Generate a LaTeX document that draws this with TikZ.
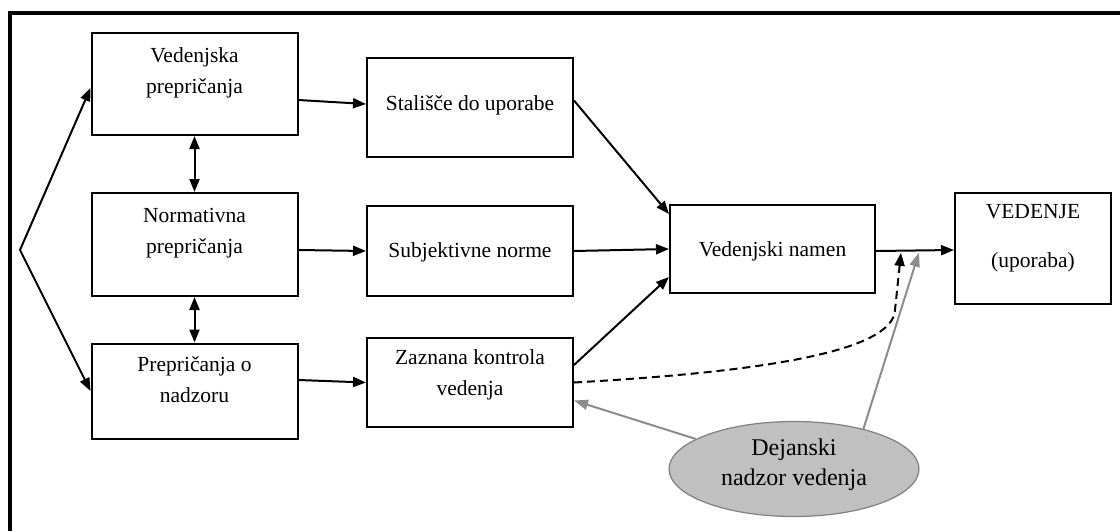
\documentclass[tikz,border=0pt]{standalone}
\usepackage{fontspec}
\setmainfont{Liberation Serif}
\usetikzlibrary{arrows.meta,shapes.geometric,calc}

\definecolor{ellfill}{HTML}{C0C0C0}
\definecolor{elledge}{HTML}{808080}
\definecolor{greyarrow}{HTML}{8C8C8C}

\tikzset{
  x=1pt, y=-1pt,
  box/.style={draw=black, line width=2pt, minimum width=206pt, inner sep=0pt},
  txt/.style={align=center, inner sep=0pt, font=\fontsize{21.5}{31}\selectfont},
  arr/.style={line width=2pt, -{Triangle[length=13pt,width=10pt]}},
  arrtwo/.style={line width=2pt, {Triangle[length=13pt,width=10pt]}-{Triangle[length=13pt,width=10pt]}},
  dasharr/.style={arr, dash pattern=on 8pt off 5pt},
  greyarr/.style={line width=2pt, draw=greyarrow, -{Triangle[length=14pt,width=10pt,fill=greyarrow]}},
  actual/.style={ellipse, draw=elledge, fill=ellfill, line width=1.2pt,
                 minimum width=250pt, minimum height=95pt, inner sep=0pt}
}

\begin{document}
\begin{tikzpicture}
\useasboundingbox (0,0) rectangle (1120,531);

% outer frame (open to the right and below)
\draw[line width=3.5pt] (1120,13) -- (10,13) -- (10,531);

% belief boxes
\node[box, minimum height=102pt] (vp) at (194.5,84) {};
\node[txt] (vpt) at (194.5,73) {Vedenjska\\prepričanja};
\node[box, minimum height=103pt] (np) at (194.5,244.5) {};
\node[txt] (npt) at (194.5,233) {Normativna\\prepričanja};
\node[box, minimum height=95pt] (po) at (194.5,391) {};
\node[txt] (pot) at (194.5,380) {Prepričanja o\\nadzoru};

% middle column
\node[box, minimum height=99pt] (st) at (470,107.5) {};
\node[txt] (stt) at (470,105) {Stališče do uporabe};
\node[box, minimum height=90pt] (sn) at (470,251) {};
\node[txt] (snt) at (470,252) {Subjektivne norme};
\node[box, minimum height=89pt] (zk) at (470,382.5) {};
\node[txt] (zkt) at (470,375) {Zaznana kontrola\\vedenja};

% intention and behaviour
\node[box, minimum width=205pt, minimum height=88pt] (vn) at (772.5,249) {};
\node[txt] (vnt) at (772.5,251) {Vedenjski namen};
\node[box, minimum width=156pt, minimum height=111pt] (ved) at (1033,248.5) {};
\node[txt] (vedt) at (1033,238) {VEDENJE\\[18pt](uporaba)};

% actual control
\node[actual] (ell) at (794,469) {};
\node[txt, font=\fontsize{24}{30}\selectfont] (ellt) at (794,465) {Dejanski\\nadzor vedenja};

% fork on the left
\coordinate (fork) at (20,250);
\draw[arr] (fork) -- ([yshift=-4pt]vp.west);
\draw[arr] (fork) -- (po.west);

% correlations between beliefs
\draw[arrtwo] (vp.south) -- (np.north);
\draw[arrtwo] (np.south) -- (po.north);

% beliefs to attitudes
\draw[arr] ([yshift=-16pt]vp.east) -- ([yshift=3.5pt]st.west);
\draw[arr] ([yshift=-5.5pt]np.east) -- (sn.west);
\draw[arr] ([yshift=11pt]po.east) -- (zk.west);

% attitudes to intention
\draw[arr] ([yshift=7pt]st.east) -- ([yshift=-10pt]vn.north west);
\draw[arr] (sn.east) -- (vn.west);
\draw[arr] ([yshift=17.5pt]zk.east) -- ([yshift=-28pt]vn.west);

% intention to behaviour
\draw[arr] ([yshift=-2pt]vn.east) -- ([yshift=-1.5pt]ved.west);
\coordinate (joinA) at ($([yshift=-4pt]vn.east)!0.32!([yshift=-4pt]ved.west)$);
\coordinate (joinB) at ($([yshift=-4pt]vn.east)!0.55!([yshift=-4pt]ved.west)$);

% perceived control straight to behaviour
\draw[dasharr] (zk.east) .. controls (760,372) and (893,352) .. (895,310) -- (joinA);

% actual control
\draw[greyarr] (ell.163) -- ([yshift=-18pt]zk.east);
\draw[greyarr] (ell.30) -- (joinB);
\end{tikzpicture}
\end{document}
